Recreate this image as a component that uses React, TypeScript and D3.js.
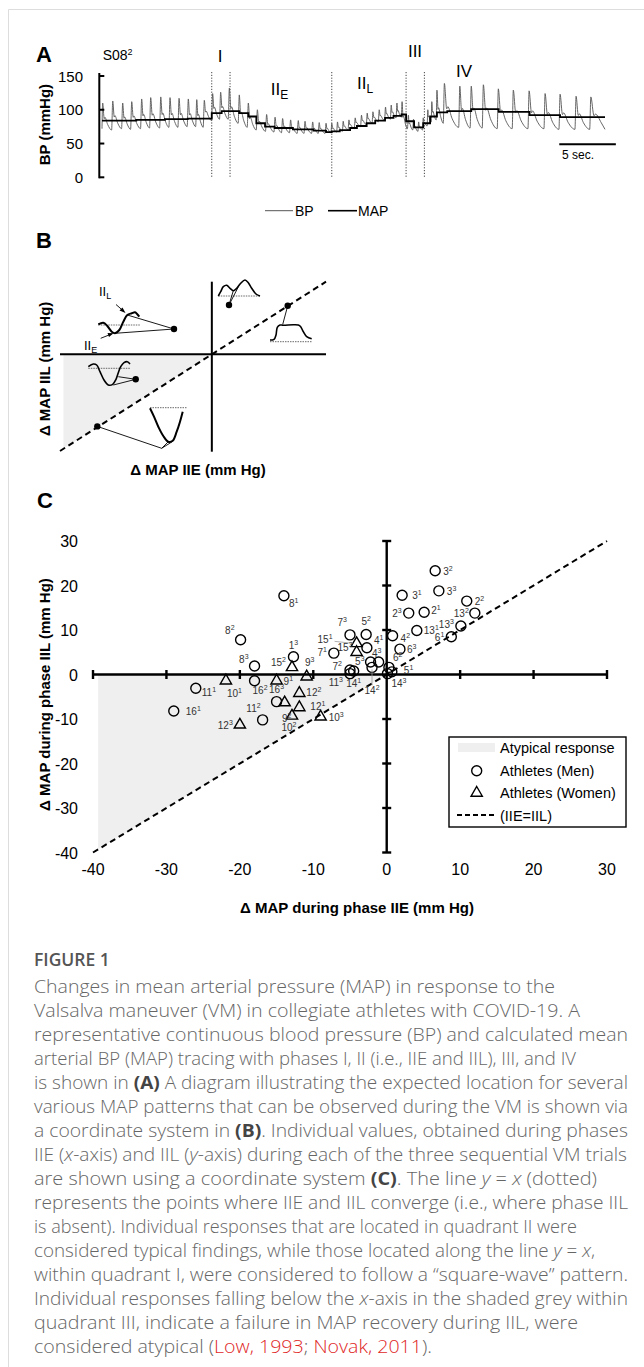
import React from "react";
import * as d3 from "d3";

// ---------------- Panel A data (seconds, mmHg) ----------------
const beatTime = [
  0.06, 0.94, 1.81, 2.6, 3.47, 4.26, 5.14, 5.95, 6.74, 7.55, 8.29, 8.95,
  9.68, 10.38, 11.14,
  12.01, 12.8, 13.59, 14.4, 15.14, 15.8, 16.5, 17.17, 17.76, 18.43, 19.0, 19.6,
  20.1, 20.6, 21.1, 21.6, 22.15, 22.7, 23.2, 23.7, 24.25, 24.8, 25.3, 25.8, 26.25,
  26.8, 27.25, 27.7, 28.1, 28.5, 28.85,
  29.3, 29.95, 31.3, 32.3, 33.36, 34.67, 35.98, 37.36, 38.76, 40.07, 41.47, 42.76,
];
const beatSys = [
  110, 113, 110, 112, 116, 118, 119, 118, 117, 116, 115, 114,
  124, 126, 132,
  122, 110, 100, 93, 89, 87, 85, 84, 83, 82, 81, 80,
  80, 82, 83, 85, 88, 92, 95, 97, 100, 104, 107, 110, 112,
  92, 86, 82, 88, 100, 112,
  129, 139, 135, 135, 137, 131, 129, 128, 124, 123, 120, 119,
];
const beatDia = [
  72, 70, 72, 71, 72, 73, 73, 74, 74, 75, 75, 74,
  84, 86, 86,
  80, 74, 70, 68, 67, 66, 66, 65, 65, 65, 65, 65,
  66, 67, 68, 70, 72, 75, 78, 80, 82, 84, 86, 88, 89,
  72, 70, 68, 70, 76, 82,
  85, 80, 74, 73, 73, 72, 72, 72, 72, 71, 71, 71,
];
const traceEnd = 44;
const traceEndDia = 71;
const mapTime = [
  0, 3.0, 5.5, 7.5, 9.6, 10.47, 12.0, 12.8, 13.5, 14.26, 15.1, 16.7, 18.5, 19.6,
  20.1, 20.8, 21.7, 22.3, 23.15, 23.9, 24.76, 25.5, 26.2, 26.6, 27.3, 28.1, 28.7,
  29.3, 30.2, 32.3, 34.7, 37.4, 40.07, 44,
];
const mapValue = [
  84, 85, 86, 87, 95, 98, 95, 90, 80, 75, 73, 71, 69, 67,
  68, 70, 73, 76, 80, 84, 88, 91, 93, 83, 74, 80, 90,
  96, 98, 101, 97, 92, 89, 89,
];
const phaseBounds = [9.6, 11.2, 20.1, 26.6, 28.2];
const bpTicks = [0, 50, 100, 150];

// ---------------- Panel C data (mm Hg) ----------------
const menSubject = [3, 3, 3, 2, 2, 2, 13, 13, 13, 6, 4, 6, 6, 5, 14, 7, 5, 4, 7, 4, 5, 7, 11, 14, 14, 8, 8, 8, 1, 16, 16, 11, 16, 11];
const menTrial = [2, 1, 3, 2, 3, 1, 2, 1, 3, 1, 2, 3, 2, 1, 3, 3, 2, 1, 1, 3, 3, 2, 3, 1, 2, 1, 2, 3, 3, 2, 3, 1, 1, 2];
const menIIE = [6.6, 2.1, 7.1, 10.9, 3.0, 5.1, 12.0, 4.1, 10.1, 8.8, 0.8, 1.8, 0.3, 0.7, 0.1, -5.0, -2.8, -2.7, -7.2, -1.1, -2.2, -5.0, -5.0, -4.5, -2.0, -14.0, -19.9, -18.0, -12.7, -18.0, -15.0, -26.0, -29.0, -16.9];
const menIIL = [23.3, 17.8, 18.8, 16.5, 13.8, 14.0, 13.8, 9.9, 10.9, 8.5, 8.7, 5.7, 1.6, 0.6, 0.2, 8.9, 9.0, 6.0, 4.8, 2.8, 2.8, 1.0, 0.2, 0.8, 1.6, 17.7, 7.8, 1.9, 4.0, -1.4, -6.1, -3.1, -8.2, -10.2];

const womenSubject = [15, 9, 10, 9, 9, 12, 12, 10, 10, 12, 15, 15];
const womenTrial = [2, 3, 1, 1, 2, 2, 1, 2, 3, 3, 1, 3];
const womenIIE = [-12.9, -10.9, -21.9, -15.0, -13.9, -11.9, -11.9, -12.9, -9.0, -20.0, -4.1, -4.1];
const womenIIL = [1.6, -0.5, -1.4, -1.4, -6.3, -4.2, -7.4, -9.3, -9.5, -11.3, 7.0, 5.0];

const cTicks = [-40, -30, -20, -10, 0, 10, 20, 30];
const legendItems = ["Atypical response", "Athletes (Men)", "Athletes (Women)", "(IIE=IIL)"];

// ---------------- label layout (px offsets) ----------------
type LP = [number, number, "start" | "middle" | "end", number?];
const labelLayout: Record<string, LP> = {
  "3-2": [8, 4, "start"], "3-1": [10, 4, "start"], "3-3": [8, 4, "start"], "2-2": [8, 4, "start"],
  "2-3": [-7, 4, "end"], "2-1": [7, 2, "start"], "13-2": [-6, 4, "end"], "13-1": [7, 4, "start"],
  "13-3": [-7, 2, "end"], "6-1": [-7, 4, "end"], "4-2": [8, 6, "start"], "6-3": [7, 4, "start"],
  "6-2": [4, -6, "start"], "5-1": [12, 2, "start"], "14-3": [4, 13, "start"], "7-3": [-3, -9, "end"],
  "5-2": [0, -9, "middle"], "4-1": [7, -4, "start"], "7-1": [-7, 3, "end"], "4-3": [-2, -5, "middle"],
  "5-3": [-6, 3, "end"], "7-2": [-8, 0, "end"], "11-3": [-7, 12, "end"], "14-1": [0, 16, "middle"],
  "14-2": [0, 27, "middle", 1], "8-1": [5, 11, "start"], "8-2": [-6, -6, "end"], "8-3": [-6, -3, "end"],
  "1-3": [0, -8, "middle"], "16-2": [-2, 13, "start"], "16-3": [0, -9, "middle"], "11-1": [6, 8, "start"],
  "16-1": [12, 4, "start"], "11-2": [-2, -8, "end"],
  "w15-2": [-6, -1, "end"], "w9-3": [3, -11, "middle"], "w10-1": [1, 16, "start"], "w9-1": [7, 4, "start"],
  "w9-2": [2, 19, "middle"], "w12-2": [7, 3, "start"], "w12-1": [11, 3, "start"], "w10-2": [-3, 15, "middle"],
  "w10-3": [8, 4, "start"], "w12-3": [-7, 4, "end"], "w15-1": [-24, 0, "end", 2], "w15-3": [-4, -1, "end"],
};

// ---------------- caption ----------------
type Seg = [string, "n" | "b" | "i" | "r"];
const captionLines: Seg[][] = [
  [["Changes in mean arterial pressure (MAP) in response to the", "n"]],
  [["Valsalva maneuver (VM) in collegiate athletes with COVID-19. A", "n"]],
  [["representative continuous blood pressure (BP) and calculated mean", "n"]],
  [["arterial BP (MAP) tracing with phases I, II (i.e., IIE and IIL), III, and IV", "n"]],
  [["is shown in ", "n"], ["(A)", "b"], [" A diagram illustrating the expected location for several", "n"]],
  [["various MAP patterns that can be observed during the VM is shown via", "n"]],
  [["a coordinate system in ", "n"], ["(B)", "b"], [". Individual values, obtained during phases", "n"]],
  [["IIE (", "n"], ["x", "i"], ["-axis) and IIL (", "n"], ["y", "i"], ["-axis) during each of the three sequential VM trials", "n"]],
  [["are shown using a coordinate system ", "n"], ["(C)", "b"], [". The line ", "n"], ["y", "i"], [" = ", "n"], ["x", "i"], [" (dotted)", "n"]],
  [["represents the points where IIE and IIL converge (i.e., where phase IIL", "n"]],
  [["is absent). Individual responses that are located in quadrant II were", "n"]],
  [["considered typical findings, while those located along the line ", "n"], ["y", "i"], [" = ", "n"], ["x", "i"], [",", "n"]],
  [["within quadrant I, were considered to follow a \u201csquare-wave\u201d pattern.", "n"]],
  [["Individual responses falling below the ", "n"], ["x", "i"], ["-axis in the shaded grey within", "n"]],
  [["quadrant III, indicate a failure in MAP recovery during IIL, were", "n"]],
  [["considered atypical (", "n"], ["Low, 1993", "r"], ["; ", "n"], ["Novak, 2011", "r"], [").", "n"]],
];
const captionLineWidths = [521, 546, 594, 542, 594, 594, 594, 593, 563, 594, 543, 561, 594, 594, 544, 398];

const FONT = "'Liberation Sans', Arial, sans-serif";

function PanelA() {
  const xA = d3.scaleLinear().domain([0, traceEnd]).range([102, 605]);
  const yA = d3.scaleLinear().domain([0, 150]).range([177.3, 76]);
  const pts: [number, number][] = [];
  const n = beatTime.length;
  for (let i = 0; i < n; i++) {
    const t = beatTime[i];
    const prevT = i > 0 ? beatTime[i - 1] : t - 0.8;
    const tNext = i < n - 1 ? beatTime[i + 1] : traceEnd + 0.6;
    const dt = tNext - t;
    const rise = Math.min(0.1, (t - prevT) * 0.15);
    const dNext = i < n - 1 ? beatDia[i + 1] : traceEndDia;
    const s = beatSys[i];
    const amp = s - dNext;
    pts.push([Math.max(0, t - rise), beatDia[i]]);
    pts.push([t, s]);
    pts.push([t + dt * 0.15, dNext + amp * 0.42]);
    pts.push([t + dt * 0.22, dNext + amp * 0.47]);
    if (t + dt * 0.5 < traceEnd) pts.push([t + dt * 0.5, dNext + amp * 0.2]);
  }
  pts.push([traceEnd, traceEndDia]);
  const bpLine = d3.line<[number, number]>().x((d) => xA(d[0])).y((d) => yA(d[1])).curve(d3.curveMonotoneX);
  const mapPts = mapTime.map((t, i) => [t, mapValue[i]] as [number, number]);
  const mapLine = d3.line<[number, number]>().x((d) => xA(d[0])).y((d) => yA(d[1])).curve(d3.curveStepAfter);
  const x0 = 99.3;
  return (
    <g fontFamily={FONT}>
      <text x={36} y={62} fontSize={22} fontWeight="bold">A</text>
      <text x={102.7} y={60} fontSize={14}>S08<tspan dy={-5} fontSize={9}>2</tspan></text>
      {phaseBounds.map((t, i) => (
        <line key={i} x1={xA(t)} x2={xA(t)} y1={72} y2={178} stroke="#444" strokeWidth={1} strokeDasharray="1.2,1.6" />
      ))}
      <path d={bpLine(pts) || ""} fill="none" stroke="#555" strokeWidth={0.9} />
      <path d={mapLine(mapPts) || ""} fill="none" stroke="#000" strokeWidth={1.8} />
      <line x1={x0} x2={x0} y1={yA(150) - 3} y2={yA(0) + 1} stroke="#000" strokeWidth={2} />
      {bpTicks.map((v) => (
        <g key={v}>
          <line x1={x0} x2={x0 + 5} y1={yA(v)} y2={yA(v)} stroke="#000" strokeWidth={2} />
          <text x={83} y={yA(v) + 5.5} fontSize={15} textAnchor="end">{v}</text>
        </g>
      ))}
      <text transform={`translate(50,${yA(75) - 2}) rotate(-90)`} fontSize={15} fontWeight="bold" textAnchor="middle">BP (mmHg)</text>
      <text x={220} y={62} fontSize={17} textAnchor="middle">I</text>
      <text x={270.7} y={95} fontSize={17}>II<tspan dy={4} fontSize={12}>E</tspan></text>
      <text x={357} y={89} fontSize={17}>II<tspan dy={4} fontSize={12}>L</tspan></text>
      <text x={415} y={57} fontSize={17} textAnchor="middle">III</text>
      <text x={464} y={77} fontSize={17} textAnchor="middle">IV</text>
      <line x1={xA(40)} x2={xA(44.95)} y1={144.3} y2={144.3} stroke="#000" strokeWidth={2} />
      <text x={578} y={159} fontSize={12} textAnchor="middle">5 sec.</text>
      <line x1={265} x2={293} y1={210.7} y2={210.7} stroke="#555" strokeWidth={1} />
      <text x={295} y={216} fontSize={14}>BP</text>
      <line x1={328} x2={357} y1={210.7} y2={210.7} stroke="#000" strokeWidth={1.6} />
      <text x={358} y={216} fontSize={14}>MAP</text>
    </g>
  );
}

function PanelB() {
  const xB = d3.scaleLinear().domain([-1.33, 1]).range([60, 326]);
  const yB = d3.scaleLinear().domain([-1.34, 1]).range([451.7, 281.7]);
  const shade = `M${xB(-1.3)},${yB(0)} L${xB(0)},${yB(0)} L${xB(-1.3)},${yB(-1.3)} Z`;
  const ln = d3.line();
  const wave = (p: [number, number][]) => d3.line().curve(d3.curveCatmullRom)(p) || "";
  const thin = { stroke: "#000", strokeWidth: 0.9 };
  const base = { stroke: "#444", strokeWidth: 0.8, strokeDasharray: "1.5,1" };
  const w = { fill: "none", stroke: "#000", strokeWidth: 2 };
  return (
    <g fontFamily={FONT}>
      <text x={36} y={248} fontSize={22} fontWeight="bold">B</text>
      <path d={shade} fill="#efefef" />
      <line x1={xB(-1.33)} x2={xB(1)} y1={yB(0)} y2={yB(0)} stroke="#000" strokeWidth={2} />
      <line x1={xB(0)} x2={xB(0)} y1={yB(1)} y2={yB(-1.34)} stroke="#000" strokeWidth={2} />
      <line x1={xB(-1.33)} y1={yB(-1.33)} x2={xB(1)} y2={yB(1)} stroke="#000" strokeWidth={2} strokeDasharray="6,4" />
      {/* quadrant II icon */}
      <line x1={98.3} x2={140} y1={325} y2={325} {...base} />
      <path d={wave([[98.3, 324.3], [103.3, 322.7], [107.3, 326], [111.7, 331.7], [115, 333.3], [119.3, 330], [123.3, 321.7], [127.3, 315], [131.7, 313.3], [135, 312.3], [137.3, 314.3], [139.3, 316.7]])} {...w} />
      <path d={ln([[127.3, 315], [174, 329], [115, 333.3]]) || ""} fill="none" {...thin} />
      <circle cx={174} cy={329} r={3.2} fill="#000" />
      <text x={99} y={296} fontSize={13}>II<tspan dy={3} fontSize={9}>L</tspan></text>
      <line x1={116} y1={304.5} x2={124} y2={311.5} {...thin} />
      <path d="M125.5,313 L119.5,310.5 L122.5,307.5 Z" fill="#000" />
      <text x={84} y={350} fontSize={13}>II<tspan dy={3} fontSize={9}>E</tspan></text>
      <line x1={100.7} y1={338.3} x2={111.5} y2={334} {...thin} />
      <path d="M113.5,333.3 L107.5,333 L109,337 Z" fill="#000" />
      {/* quadrant I double hump */}
      <line x1={218.3} x2={260} y1={296} y2={296} {...base} />
      <path d={wave([[218.3, 296], [220.7, 291.7], [223.3, 286.7], [226.7, 285.3], [230, 288.3], [233.3, 290.7], [236.7, 288.3], [240.7, 283.3], [245, 280], [248.3, 282.7], [251.7, 288.3], [256, 294], [260, 296]])} {...w} strokeWidth={1.6} />
      <path d={ln([[233.3, 290.7], [229, 305], [238.5, 286.5]]) || ""} fill="none" {...thin} />
      <circle cx={229} cy={305} r={3.2} fill="#000" />
      {/* square wave */}
      <line x1={270} x2={311.7} y1={341.7} y2={341.7} {...base} />
      <path d={wave([[270, 340], [274, 339.3], [276, 335], [277.3, 327.3], [280, 325], [283.3, 325.3], [293.3, 324.7], [298.3, 325], [300.7, 326.7], [303.3, 331.7], [306.7, 336.7], [311.7, 338.7]])} {...w} strokeWidth={1.6} />
      <line x1={287.7} y1={305.8} x2={282.7} y2={324.5} {...thin} />
      <circle cx={287.7} cy={305.8} r={3.2} fill="#000" />
      {/* quadrant III upper */}
      <line x1={88.3} x2={130} y1={368.3} y2={368.3} {...base} />
      <path d={wave([[88.3, 366.7], [93.3, 364], [96.7, 365], [100, 371.7], [104, 380], [108.3, 385], [112.7, 384.3], [116, 379.3], [118.3, 372.7], [120.7, 366.7], [124, 362.7], [127.3, 361.7], [130, 364]])} {...w} strokeWidth={1.6} />
      <path d={ln([[113.3, 385], [135.7, 379.3], [118.3, 376.7]]) || ""} fill="none" {...thin} />
      <circle cx={135.7} cy={379.3} r={3.2} fill="#000" />
      {/* V */}
      <line x1={150} x2={186.7} y1={407.7} y2={407.7} {...base} />
      <path d={wave([[150, 408.3], [154, 416.7], [158.3, 426.7], [163.3, 436], [168.3, 441.7], [172.7, 440.7], [176.7, 431.7], [180, 421.7], [182.7, 411.7]])} {...w} strokeWidth={2} />
      <path d={ln([[97.3, 426.4], [161.7, 448.3], [168, 442]]) || ""} fill="none" {...thin} />
      <line x1={161.7} y1={448.3} x2={172.5} y2={441.5} {...thin} />
      <circle cx={97.3} cy={426.4} r={3.2} fill="#000" />
      <text transform={`translate(50,${yB(-0.2)}) rotate(-90)`} fontSize={15} fontWeight="bold" textAnchor="middle">Δ MAP IIL (mm Hg)</text>
      <text x={198} y={475} fontSize={15} fontWeight="bold" textAnchor="middle">Δ MAP IIE (mm Hg)</text>
    </g>
  );
}

function PointLabel({ x, y, s, t, lp }: { x: number; y: number; s: number; t: number; lp: LP }) {
  const [dx, dy, anchor, leader] = lp;
  return (
    <g>
      {leader === 1 && <line x1={x} x2={x} y1={y + 2} y2={y + dy - 9} stroke="#999" strokeWidth={0.8} />}
      {leader === 2 && <line x1={x + dx + 2} x2={x - 4} y1={y - 2} y2={y} stroke="#999" strokeWidth={0.8} />}
      <text x={x + dx} y={y + dy} fontSize={10} fill="#333" textAnchor={anchor}>
        {s}
        <tspan dy={-4} fontSize={7}>{t}</tspan>
      </text>
    </g>
  );
}

function PanelC() {
  const xC = d3.scaleLinear().domain([-40, 30]).range([93, 607]);
  const yC = d3.scaleLinear().domain([-40, 30]).range([852.5, 541]);
  const tri = d3.symbol(d3.symbolTriangle, 55)() || "";
  const shade = `M${xC(-39.3)},${yC(0)} L${xC(0)},${yC(0)} L${xC(-39.3)},${yC(-39.3)} Z`;
  const lx = 449, ly = 737;
  return (
    <g fontFamily={FONT}>
      <text x={37} y={508} fontSize={22} fontWeight="bold">C</text>
      <path d={shade} fill="#efefef" />
      <line x1={xC(-40)} x2={xC(30)} y1={yC(0)} y2={yC(0)} stroke="#000" strokeWidth={2.4} />
      <line x1={xC(0)} x2={xC(0)} y1={yC(30)} y2={yC(-40)} stroke="#000" strokeWidth={2.4} />
      {cTicks.filter((v) => v !== 0).map((v) => (
        <g key={v}>
          <line x1={xC(v)} x2={xC(v)} y1={yC(0) - 4.5} y2={yC(0) + 4.5} stroke="#000" strokeWidth={2.4} />
          <line x1={xC(0) - 4.5} x2={xC(0) + 4.5} y1={yC(v)} y2={yC(v)} stroke="#000" strokeWidth={2.4} />
        </g>
      ))}
      {cTicks.map((v) => (
        <g key={"l" + v}>
          <text x={xC(v)} y={875} fontSize={16} textAnchor="middle">{v}</text>
          <text x={78} y={yC(v) + 6} fontSize={16} textAnchor="end">{v}</text>
        </g>
      ))}
      <line x1={xC(-40)} y1={yC(-40)} x2={xC(30)} y2={yC(30)} stroke="#000" strokeWidth={2} strokeDasharray="6,4" />
      {menIIE.map((v, i) => (
        <circle key={"m" + i} cx={xC(v)} cy={yC(menIIL[i])} r={5} fill="none" stroke="#000" strokeWidth={1.4} />
      ))}
      {womenIIE.map((v, i) => (
        <path key={"w" + i} d={tri} transform={`translate(${xC(v)},${yC(womenIIL[i])})`} fill="none" stroke="#000" strokeWidth={1.4} />
      ))}
      {menIIE.map((v, i) => (
        <PointLabel key={"ml" + i} x={xC(v)} y={yC(menIIL[i])} s={menSubject[i]} t={menTrial[i]} lp={labelLayout[`${menSubject[i]}-${menTrial[i]}`] || [7, 4, "start"]} />
      ))}
      {womenIIE.map((v, i) => (
        <PointLabel key={"wl" + i} x={xC(v)} y={yC(womenIIL[i])} s={womenSubject[i]} t={womenTrial[i]} lp={labelLayout[`w${womenSubject[i]}-${womenTrial[i]}`] || [7, 4, "start"]} />
      ))}
      <text transform={`translate(50,${yC(-4.5)}) rotate(-90)`} fontSize={15} fontWeight="bold" textAnchor="middle">Δ MAP during phase IIL (mm Hg)</text>
      <text x={357} y={913} fontSize={15} fontWeight="bold" textAnchor="middle">Δ MAP during phase IIE (mm Hg)</text>
      {/* legend */}
      <rect x={lx} y={ly} width={177} height={90} fill="#fff" stroke="#000" strokeWidth={1.4} />
      <rect x={lx + 9} y={ly + 6} width={37} height={9} fill="#efefef" />
      <circle cx={lx + 27.7} cy={ly + 33.7} r={5} fill="none" stroke="#000" strokeWidth={1.4} />
      <path d={tri} transform={`translate(${lx + 27.7},${ly + 56})`} fill="none" stroke="#000" strokeWidth={1.4} />
      <line x1={lx + 8} x2={lx + 48} y1={ly + 78} y2={ly + 78} stroke="#000" strokeWidth={2} strokeDasharray="5,3" />
      {legendItems.map((s, i) => (
        <text key={s} x={lx + 51} y={ly + 16 + i * 22.5} fontSize={14.5}>{s}</text>
      ))}
    </g>
  );
}

function Caption() {
  const x0 = 34;
  return (
    <g fontFamily="'Open Sans', 'Noto Sans', sans-serif">
      <text x={x0} y={966} fontSize={17.5} fontWeight={600} fill="#555">FIGURE 1</text>
      {captionLines.map((segs, i) => (
        <text key={i} x={x0} y={993 + i * 24} fontSize={17.5} fill="#666" fontWeight={300}
          textLength={captionLineWidths[i]} lengthAdjust="spacingAndGlyphs">
          {segs.map(([s, k], j) => (
            <tspan key={j}
              fontWeight={k === "b" ? 700 : 300}
              fontStyle={k === "i" ? "italic" : "normal"}
              fill={k === "r" ? "#e0271f" : k === "b" ? "#444" : "#666"}>{s}</tspan>
          ))}
        </text>
      ))}
    </g>
  );
}

export default function App() {
  return (
    <svg width={644} height={1367} style={{ position: "absolute", left: 0, top: 0, background: "#fff" }}>
      <rect x={0} y={0} width={644} height={1367} fill="#fff" />
      <line x1={8.5} x2={644} y1={9.5} y2={9.5} stroke="#ddd" strokeWidth={1} />
      <line x1={8.5} x2={8.5} y1={9.5} y2={1367} stroke="#ddd" strokeWidth={1} />
      <PanelA />
      <PanelB />
      <PanelC />
      <Caption />
    </svg>
  );
}
